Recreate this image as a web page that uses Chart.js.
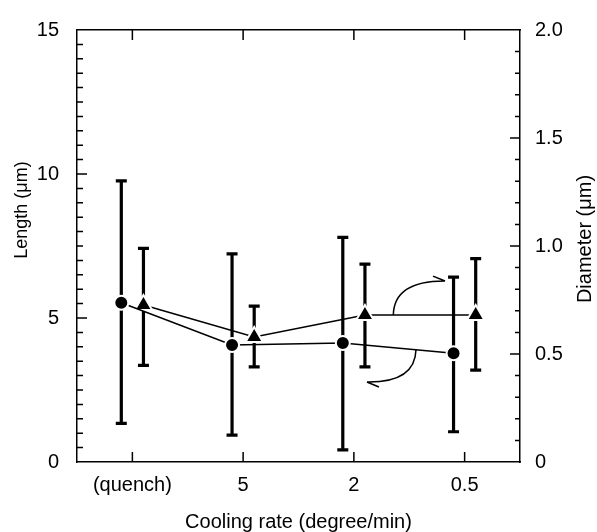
<!DOCTYPE html>
<html>
<head>
<meta charset="utf-8">
<script src="https://cdn.jsdelivr.net/npm/chart.js@4.4.1/dist/chart.umd.min.js"></script>
<style>
  html, body { margin: 0; padding: 0; background: #fff; }
  canvas { display: block; }
</style>
</head>
<body>
<canvas id="chart" width="597" height="532"></canvas>
<script>
const categories = ["(quench)", "5", "2", "0.5"];
const lengthMean = [5.53, 4.06, 4.13, 3.78];
const lengthLow = [1.34, 0.93, 0.42, 1.05];
const lengthHigh = [9.76, 7.23, 7.80, 6.42];
const diameterMean = [0.727, 0.579, 0.68, 0.68];
const diameterLow = [0.447, 0.44, 0.44, 0.425];
const diameterHigh = [0.989, 0.722, 0.916, 0.942];
const lengthTicks = [0, 5, 10, 15];
const diameterTicks = [0, 0.5, 1.0, 1.5, 2.0];
const diameterTickLabels = ["0", "0.5", "1.0", "1.5", "2.0"];

const FONT = '"Liberation Sans", Arial, Helvetica, sans-serif';
const SHIFT = 0.1; // circles sit left of the category, triangles right

// curved arrows pointing to the axis each series is read on (data units)
const arrows = [
  { axis: "y2", from: [2.356, 0.68], ctrl: [2.362, 0.839], to: [2.823, 0.838] },
  { axis: "y", from: [2.561, 3.90], ctrl: [2.552, 2.755], to: [2.118, 2.779] },
];

Chart.defaults.font.family = FONT;
Chart.defaults.color = "#000";

const lengthPoints = categories.map((c, i) => ({ x: i - SHIFT, y: lengthMean[i], lo: lengthLow[i], hi: lengthHigh[i] }));
const diameterPoints = categories.map((c, i) => ({ x: i + SHIFT, y: diameterMean[i], lo: diameterLow[i], hi: diameterHigh[i] }));

const errorBars = {
  id: "errorBars",
  beforeDatasetsDraw(chart) {
    const { ctx, scales } = chart;
    ctx.save();
    ctx.strokeStyle = "#000";
    ctx.lineWidth = 3.2;
    chart.data.datasets.forEach(ds => {
      const ys = scales[ds.yAxisID];
      ds.data.forEach(p => {
        const x = scales.x.getPixelForValue(p.x);
        const top = ys.getPixelForValue(p.hi);
        const bot = ys.getPixelForValue(p.lo);
        ctx.beginPath();
        ctx.moveTo(x, top); ctx.lineTo(x, bot);
        ctx.moveTo(x - 5.5, top); ctx.lineTo(x + 5.5, top);
        ctx.moveTo(x - 5.5, bot); ctx.lineTo(x + 5.5, bot);
        ctx.stroke();
      });
    });
    ctx.restore();
  }
};

const curvedArrows = {
  id: "curvedArrows",
  afterDatasetsDraw(chart) {
    const { ctx, scales } = chart;
    const x = scales.x;
    ctx.save();
    ctx.strokeStyle = "#000";
    ctx.lineWidth = 1.5;
    arrows.forEach(a => {
      const ys = scales[a.axis];
      const p0 = [x.getPixelForValue(a.from[0]), ys.getPixelForValue(a.from[1])];
      const c = [x.getPixelForValue(a.ctrl[0]), ys.getPixelForValue(a.ctrl[1])];
      const p1 = [x.getPixelForValue(a.to[0]), ys.getPixelForValue(a.to[1])];
      ctx.beginPath();
      ctx.moveTo(p0[0], p0[1]);
      ctx.quadraticCurveTo(c[0], c[1], p1[0], p1[1]);
      // single barb, as in the original
      const ang = Math.atan2(c[1] - p1[1], c[0] - p1[0]) + 22 * Math.PI / 180;
      ctx.moveTo(p1[0], p1[1]);
      ctx.lineTo(p1[0] + 13 * Math.cos(ang), p1[1] + 13 * Math.sin(ang));
      ctx.stroke();
    });
    ctx.restore();
  }
};

const inwardTicks = {
  id: "inwardTicks",
  afterDraw(chart) {
    const { ctx, chartArea: a, scales } = chart;
    ctx.save();
    ctx.strokeStyle = "#000";
    ctx.lineWidth = 1.5;
    ctx.beginPath();
    categories.forEach((c, i) => {
      const px = scales.x.getPixelForValue(i);
      ctx.moveTo(px, a.bottom); ctx.lineTo(px, a.bottom - 10);
      ctx.moveTo(px, a.top); ctx.lineTo(px, a.top + 10);
    });
    for (let k = 1; k < 30; k++) {
      const py = scales.y.getPixelForValue(k * 0.5);
      ctx.moveTo(a.left, py); ctx.lineTo(a.left + (k % 10 === 0 ? 10 : 6), py);
    }
    for (let k = 1; k < 20; k++) {
      const py = scales.y2.getPixelForValue(k * 0.1);
      ctx.moveTo(a.right, py); ctx.lineTo(a.right - (k % 5 === 0 ? 10 : 5), py);
    }
    ctx.stroke();
    ctx.restore();
  }
};

const sideTitles = {
  id: "sideTitles",
  afterDraw(chart) {
    const { ctx } = chart;
    ctx.save();
    ctx.fillStyle = "#000";
    ctx.textAlign = "center";
    ctx.textBaseline = "middle";
    ctx.translate(22, 210);
    ctx.rotate(-Math.PI / 2);
    ctx.font = "18px " + FONT;
    ctx.fillText("Length (\u03bcm)", 0, 0);
    ctx.restore();
    ctx.save();
    ctx.fillStyle = "#000";
    ctx.textAlign = "center";
    ctx.textBaseline = "middle";
    ctx.translate(585, 239);
    ctx.rotate(-Math.PI / 2);
    ctx.font = "20px " + FONT;
    ctx.fillText("Diameter (\u03bcm)", 0, 0);
    ctx.restore();
  }
};

const frame = { color: "#000", width: 1.5 };
const noGrid = { display: false, drawTicks: false };

new Chart(document.getElementById("chart"), {
  type: "scatter",
  data: {
    datasets: [
      {
        label: "Length",
        data: lengthPoints,
        yAxisID: "y",
        showLine: true,
        borderColor: "#000",
        borderWidth: 1.5,
        pointStyle: "circle",
        pointRadius: 7,
        pointBackgroundColor: "#000",
        pointBorderColor: "#fff",
        pointBorderWidth: 2,
      },
      {
        label: "Diameter",
        data: diameterPoints,
        yAxisID: "y2",
        showLine: true,
        borderColor: "#000",
        borderWidth: 1.5,
        pointStyle: "triangle",
        pointRadius: 10,
        pointBackgroundColor: "#000",
        pointBorderColor: "#fff",
        pointBorderWidth: 2,
      },
    ],
  },
  options: {
    responsive: false,
    animation: false,
    devicePixelRatio: 1,
    layout: { padding: 0 },
    plugins: { legend: { display: false }, tooltip: { enabled: false } },
    scales: {
      x: {
        type: "linear",
        position: "bottom",
        min: -0.5,
        max: 3.5,
        afterBuildTicks: s => { s.ticks = categories.map((c, i) => ({ value: i })); },
        afterFit: s => { s.height = 70; },
        grid: noGrid,
        border: frame,
        ticks: { callback: v => categories[v], font: { size: 20 }, padding: 11, maxRotation: 0, autoSkip: false },
        title: { display: true, text: "Cooling rate (degree/min)", font: { size: 20, lineHeight: 1 }, padding: 0 },
      },
      xTop: {
        type: "linear",
        position: "top",
        min: -0.5,
        max: 3.5,
        afterFit: s => { s.height = 21; },
        grid: noGrid,
        border: frame,
        ticks: { display: false },
      },
      y: {
        position: "left",
        min: 0,
        max: 15,
        afterBuildTicks: s => { s.ticks = lengthTicks.map(v => ({ value: v })); },
        afterFit: s => { s.width = 77; },
        grid: noGrid,
        border: frame,
        ticks: { font: { size: 20 }, padding: 18 },
      },
      y2: {
        position: "right",
        min: 0,
        max: 2,
        afterBuildTicks: s => { s.ticks = diameterTicks.map(v => ({ value: v })); },
        afterFit: s => { s.width = 77; },
        grid: noGrid,
        border: frame,
        ticks: { font: { size: 20 }, padding: 15, callback: (v, i) => diameterTickLabels[i] },
      },
    },
  },
  plugins: [errorBars, curvedArrows, inwardTicks, sideTitles],
});
</script>
</body>
</html>
